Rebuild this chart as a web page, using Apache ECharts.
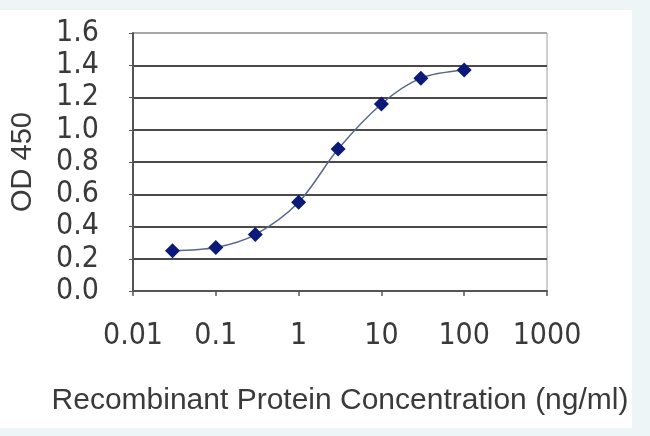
<!DOCTYPE html>
<html>
<head>
<meta charset="utf-8">
<script src="https://cdn.jsdelivr.net/npm/echarts@6/dist/echarts.min.js"></script>
<style>
html,body{margin:0;padding:0;background:#fff;}
#chart{width:650px;height:436px;}
</style>
</head>
<body>
<div id="chart"></div>
<script>
const concentrations = [0.03, 0.1, 0.3, 1, 3, 10, 30, 100];
const odValues = [0.25, 0.27, 0.35, 0.55, 0.88, 1.16, 1.32, 1.37];
const xTickLabels = ['0.01', '0.1', '1', '10', '100', '1000'];
const yTickLabels = ['0.0', '0.2', '0.4', '0.6', '0.8', '1.0', '1.2', '1.4', '1.6'];
const xTitle = 'Recombinant Protein Concentration (ng/ml)';
const yTitle = 'OD 450';

const tickFont = '"Liberation Sans Narrow", "DejaVu Sans Condensed", "Liberation Sans", sans-serif';
const titleFont = '"Liberation Sans", Arial, sans-serif';

const chart = echarts.init(document.getElementById('chart'));
const points = concentrations.map((c, i) => [c, odValues[i]]);
const gridColors = yTickLabels.map((_, i) => i === yTickLabels.length - 1 ? '#a8a8a8' : '#4a4a4a');

chart.setOption({
  backgroundColor: '#edf5f6',
  animation: false,
  graphic: [
    {type: 'rect', z: -10, silent: true, shape: {x: 0, y: 10, width: 632, height: 418}, style: {fill: '#ffffff'}}
  ],
  grid: {left: 131, right: 103, top: 33, bottom: 145, show: true, borderColor: '#a0a0a0', borderWidth: 1, backgroundColor: 'transparent'},
  xAxis: {
    type: 'log', logBase: 10, min: 0.01, max: 1000,
    name: xTitle, nameLocation: 'middle', nameGap: 95,
    nameTextStyle: {fontFamily: titleFont, fontSize: 30, color: '#3a3a3a'},
    axisLine: {show: true, lineStyle: {color: '#555', width: 2}},
    axisTick: {show: true, inside: false, length: 5, lineStyle: {color: '#555', width: 1.5}},
    minorTick: {show: false},
    splitLine: {show: false},
    axisLabel: {
      margin: 30, fontFamily: tickFont, fontSize: 30, color: '#3a3a3a',
      formatter: function (v) {
        const idx = Math.round(Math.log10(v)) + 2;
        return xTickLabels[idx] !== undefined ? xTickLabels[idx] : '';
      }
    }
  },
  yAxis: {
    type: 'value', min: 0, max: 1.6, interval: 0.2,
    name: yTitle, nameLocation: 'middle', nameGap: 96, nameRotate: 90,
    nameTextStyle: {fontFamily: titleFont, fontSize: 29, color: '#3a3a3a'},
    axisLine: {show: true, lineStyle: {color: '#555', width: 2}},
    axisTick: {show: true, inside: false, length: 4, lineStyle: {color: '#555'}},
    splitLine: {show: true, lineStyle: {color: gridColors, width: 2}},
    axisLabel: {
      margin: 34, fontFamily: tickFont, fontSize: 30, color: '#3a3a3a',
      formatter: function (v) {
        const idx = Math.round(v / 0.2);
        return yTickLabels[idx] !== undefined ? yTickLabels[idx] : '';
      }
    }
  },
  series: [{
    type: 'line',
    data: points,
    smooth: 0.3,
    symbol: 'diamond',
    symbolSize: 15,
    lineStyle: {color: '#5a6690', width: 1.5},
    itemStyle: {color: '#0b1a78'}
  }]
});
</script>
</body>
</html>
